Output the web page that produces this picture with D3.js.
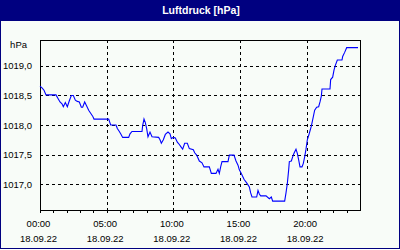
<!DOCTYPE html>
<html>
<head>
<meta charset="utf-8">
<script src="https://cdn.jsdelivr.net/npm/d3@7"></script>
<style>
  body { margin: 0; background: #fff; }
  svg { display: block; font-family: "Liberation Sans", Arial, sans-serif; }
</style>
</head>
<body>
<svg width="400" height="250"></svg>
<script>
'use strict'

var title = "Luftdruck [hPa]";
var unit = "hPa";
var day = "18.09.22";

var times = [
  "00:00", "00:09", "00:18", "00:27", "01:12", "01:21", "01:30", "01:39", "01:45", "01:54",
  "02:03", "02:12", "02:21", "02:30", "02:39", "02:48", "02:57", "03:06", "03:12", "03:21",
  "03:30", "03:39", "03:48", "03:57", "04:03", "05:09", "05:18", "05:42", "05:48", "05:57",
  "06:03", "06:12", "06:39", "06:45", "06:54", "07:39", "07:42", "07:48", "07:54", "08:00",
  "08:06", "08:15", "08:24", "08:54", "09:00", "09:06", "09:15", "09:24", "09:36", "09:45",
  "09:51", "10:00", "10:09", "10:18", "10:27", "10:36", "10:42", "10:51", "11:03", "11:12",
  "11:30", "11:36", "11:45", "11:57", "12:09", "12:18", "12:42", "12:51", "13:12", "13:21",
  "13:27", "13:33", "13:39", "14:06", "14:12", "14:33", "14:42", "14:51", "14:57", "15:06",
  "15:18", "15:30", "15:42", "15:48", "15:54", "16:15", "16:21", "16:27", "16:33", "16:57",
  "17:12", "17:21", "17:27", "18:21", "18:27", "18:33", "18:39", "18:42", "18:51", "18:57",
  "19:03", "19:12", "19:18", "19:24", "19:30", "19:39", "19:45", "19:51", "19:57", "20:03",
  "20:12", "20:21", "20:30", "20:36", "20:45", "20:54", "21:00", "21:06", "21:09", "21:45",
  "21:48", "21:57", "22:03", "22:09", "22:18", "22:39", "22:42", "22:51", "23:00", "23:51"
];

var values = [
  1018.66, 1018.63, 1018.59, 1018.51, 1018.51, 1018.45, 1018.39, 1018.36, 1018.31, 1018.38,
  1018.31, 1018.41, 1018.50, 1018.50, 1018.42, 1018.40, 1018.39, 1018.30, 1018.30, 1018.39,
  1018.32, 1018.25, 1018.20, 1018.15, 1018.10, 1018.10, 1018.00, 1018.00, 1017.94, 1017.89,
  1017.85, 1017.79, 1017.79, 1017.85, 1017.89, 1017.89, 1017.99, 1018.10, 1018.04, 1017.94,
  1017.80, 1017.88, 1017.80, 1017.79, 1017.75, 1017.69, 1017.75, 1017.84, 1017.88, 1017.85,
  1017.77, 1017.79, 1017.78, 1017.71, 1017.67, 1017.62, 1017.59, 1017.69, 1017.69, 1017.60,
  1017.58, 1017.53, 1017.49, 1017.39, 1017.36, 1017.29, 1017.29, 1017.18, 1017.18, 1017.25,
  1017.18, 1017.29, 1017.38, 1017.38, 1017.49, 1017.49, 1017.39, 1017.32, 1017.24, 1017.18,
  1017.08, 1017.02, 1016.95, 1016.85, 1016.78, 1016.78, 1016.89, 1016.83, 1016.80, 1016.80,
  1016.75, 1016.78, 1016.71, 1016.71, 1016.85, 1017.01, 1017.24, 1017.38, 1017.39, 1017.46,
  1017.52, 1017.59, 1017.52, 1017.41, 1017.29, 1017.29, 1017.35, 1017.46, 1017.59, 1017.75,
  1017.86, 1017.98, 1018.14, 1018.25, 1018.30, 1018.31, 1018.39, 1018.49, 1018.61, 1018.61,
  1018.77, 1018.81, 1018.93, 1019.01, 1019.10, 1019.10, 1019.16, 1019.23, 1019.31, 1019.31
];

var yTicks = [1017.0, 1017.5, 1018.0, 1018.5, 1019.0];
var yDomain = [1016.56, 1019.44];

var svg = d3.select("svg"),
  margin = {
    top: 40,
    right: 40,
    bottom: 40,
    left: 40
  },
  width = +svg.attr("width") - margin.left - margin.right,
  height = +svg.attr("height") - margin.top - margin.bottom;

var parseTime = d3.timeParse("%d.%m.%y %H:%M");
var formatTime = d3.timeFormat("%H:%M");
var formatValue = function(v) {
  return d3.format(".1f")(v).replace(".", ",");
};

var data = times.map(function(t, i) {
  return { date: parseTime(day + " " + t), value: values[i] };
});

var start = parseTime(day + " 00:00");
var end = d3.timeDay.offset(start, 1);

var x = d3.scaleTime().domain([start, end]).range([0, width]),
  y = d3.scaleLinear().domain(yDomain).range([height, 0]);

var majorTicks = d3.timeHour.every(5).range(start, end);
var minorTicks = d3.timeHour.every(1).range(start, end);

// frame and title bar
svg.append("rect")
  .attr("width", 400)
  .attr("height", 249)
  .attr("fill", "#000080");

svg.append("rect")
  .attr("x", 1)
  .attr("y", 21)
  .attr("width", 398)
  .attr("height", 227)
  .attr("fill", "#f8fcf8");

svg.append("text")
  .attr("x", 201)
  .attr("y", 14)
  .attr("text-anchor", "middle")
  .attr("fill", "#fff")
  .attr("font-weight", "bold")
  .attr("font-size", "10.5px")
  .text(title);

var focus = svg.append("g")
  .attr("transform", "translate(" + margin.left + "," + margin.top + ")");

// grid
focus.selectAll(".hgrid")
  .data(yTicks)
  .enter()
  .append("line")
  .attr("class", "hgrid")
  .attr("x1", 0)
  .attr("x2", width)
  .attr("y1", function(d) { return Math.round(y(d)) + 0.5; })
  .attr("y2", function(d) { return Math.round(y(d)) + 0.5; })
  .attr("stroke", "#000")
  .attr("stroke-dasharray", "3,3")
  .attr("shape-rendering", "crispEdges");

focus.selectAll(".vgrid")
  .data(majorTicks.slice(1))
  .enter()
  .append("line")
  .attr("class", "vgrid")
  .attr("x1", function(d) { return Math.round(x(d)) + 0.5; })
  .attr("x2", function(d) { return Math.round(x(d)) + 0.5; })
  .attr("y1", 0)
  .attr("y2", height)
  .attr("stroke", "#000")
  .attr("stroke-dasharray", "3,3")
  .attr("shape-rendering", "crispEdges");

// hourly ticks below the axis
focus.selectAll(".tick-minor")
  .data(minorTicks)
  .enter()
  .append("line")
  .attr("class", "tick-minor")
  .attr("x1", function(d) { return Math.round(x(d)) + 0.5; })
  .attr("x2", function(d) { return Math.round(x(d)) + 0.5; })
  .attr("y1", height)
  .attr("y2", height + 3)
  .attr("stroke", "#000")
  .attr("shape-rendering", "crispEdges");

// plot border
focus.append("rect")
  .attr("x", 0.5)
  .attr("y", 0.5)
  .attr("width", width)
  .attr("height", height)
  .attr("fill", "none")
  .attr("stroke", "#000")
  .attr("shape-rendering", "crispEdges");

var line = d3.line()
  .x(function(d) { return x(d.date); })
  .y(function(d) { return y(d.value); });

focus.append("path")
  .datum(data)
  .attr("d", line)
  .attr("fill", "none")
  .attr("stroke", "#0000ff")
  .attr("stroke-width", 1.1);

// y labels
focus.selectAll(".ylabel")
  .data(yTicks)
  .enter()
  .append("text")
  .attr("class", "ylabel")
  .attr("x", -8)
  .attr("y", function(d) { return y(d) + 3.5; })
  .attr("text-anchor", "end")
  .attr("font-size", "9.5px")
  .attr("fill", "#000")
  .text(formatValue);

focus.append("text")
  .attr("x", -13)
  .attr("y", 8)
  .attr("text-anchor", "end")
  .attr("font-size", "9.5px")
  .attr("fill", "#000")
  .text(unit);

// x labels, two lines
var xl = focus.selectAll(".xlabel")
  .data(majorTicks)
  .enter()
  .append("text")
  .attr("class", "xlabel")
  .attr("text-anchor", "middle")
  .attr("font-size", "9.5px")
  .attr("fill", "#000");

xl.append("tspan")
  .attr("x", function(d) { return x(d) - 1.5; })
  .attr("y", height + 17)
  .text(formatTime);

xl.append("tspan")
  .attr("x", function(d) { return x(d) - 1.5; })
  .attr("y", height + 31.5)
  .text(day);
</script>
</body>
</html>
